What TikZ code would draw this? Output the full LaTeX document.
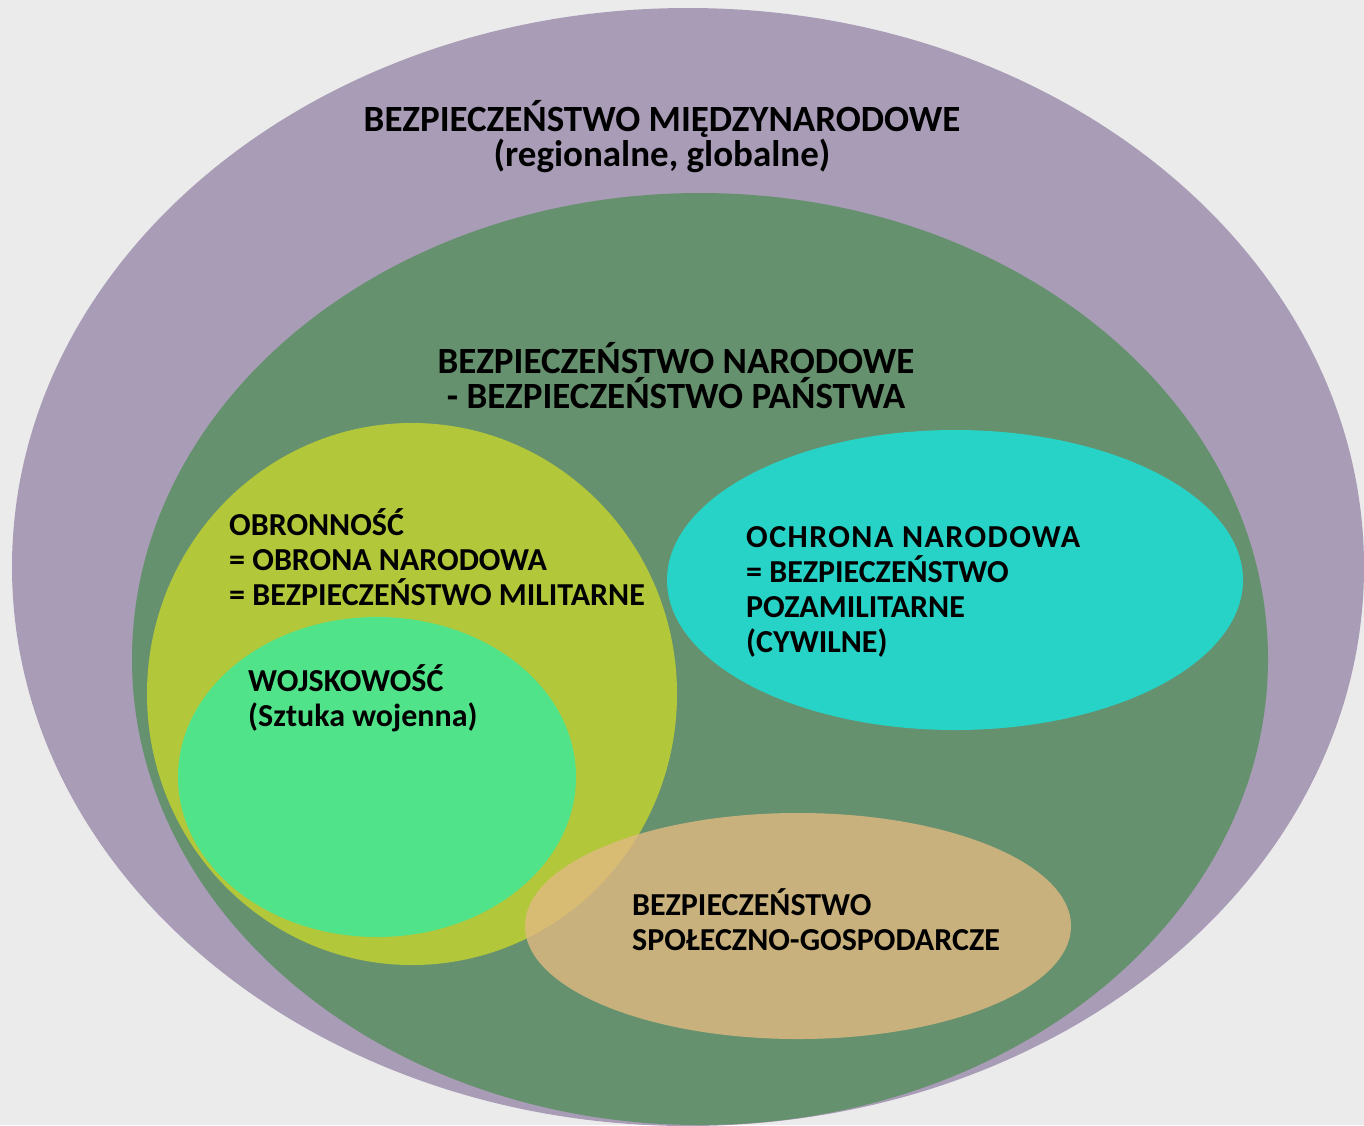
\documentclass[tikz,border=0pt]{standalone}
\usepackage{fontspec}
\setmainfont{Carlito}
\definecolor{bgc}{HTML}{EBEBEB}
\definecolor{purp}{HTML}{A99CB7}
\definecolor{grn}{HTML}{66916E}
\definecolor{ylw}{HTML}{B3C73A}
\definecolor{lgrn}{HTML}{50E38A}
\definecolor{cyn}{HTML}{27D3C6}
\definecolor{tan}{HTML}{E2BA83}
\tikzset{
  lbl/.style={anchor=base west, inner sep=0pt, align=left, font=\fontsize{32}{35}\selectfont\bfseries},
  ttl/.style={anchor=base, inner sep=0pt, align=center, font=\fontsize{37}{35}\selectfont\bfseries},
}
\begin{document}
\begin{tikzpicture}[x=1pt,y=-1pt]
\useasboundingbox (0,0) rectangle (1364,1125);
\fill[bgc] (0,0) rectangle (1364,1125);
\fill[purp] (688,567) ellipse [x radius=676, y radius=559];
\fill[grn] (700,659) ellipse [x radius=568, y radius=466];
\fill[ylw] (412,694) ellipse [x radius=265, y radius=271];
\fill[lgrn] (377,777) ellipse [x radius=199, y radius=160];
\fill[cyn] (955,580) ellipse [x radius=288, y radius=150];
\fill[tan, fill opacity=0.8] (798,926) ellipse [x radius=273, y radius=113];
\node[ttl] (t1) at (662,166) {BEZPIECZEŃSTWO MIĘDZYNARODOWE\\(regionalne, globalne)};
\node[ttl] (t2) at (676,408) {BEZPIECZEŃSTWO NARODOWE\\ - BEZPIECZEŃSTWO PAŃSTWA};
\node[lbl] (t3) at (229,605) {OBRONNOŚĆ\\= OBRONA NARODOWA\\= BEZPIECZEŃSTWO MILITARNE};
\node[lbl] (t4) at (248,726) {WOJSKOWOŚĆ\\(Sztuka wojenna)};
\node[lbl] (t5) at (746,652) {{\addfontfeature{LetterSpace=4.5}OCHRONA NARODOWA}\\= BEZPIECZEŃSTWO\\POZAMILITARNE\\(CYWILNE)};
\node[lbl] (t6) at (632,950) {BEZPIECZEŃSTWO\\SPOŁECZNO-GOSPODARCZE};
\end{tikzpicture}
\end{document}
